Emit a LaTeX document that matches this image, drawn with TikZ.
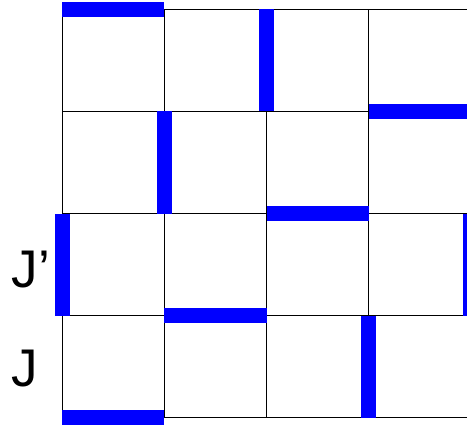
\documentclass[tikz,border=0pt]{standalone}
\usepackage{fontspec}
\setmainfont{Liberation Sans}
\usepackage{tikz}

\begin{document}
\begin{tikzpicture}[
  x=102pt, y=-102pt,
  gridline/.style={black, line width=1.3pt},
  bar/.style={draw=blue, line width=15pt, line cap=butt},
  label/.style={inner sep=0pt, anchor=base west, font=\fontsize{53}{60}\selectfont},
  ]

  % Page frame
  \useasboundingbox (-0.6127,-0.0931) rectangle (3.9657,4.0833);

  % Lattice
  \foreach \i in {0,...,4} {
    \draw[gridline] (\i,0) -- (\i,4);
    \draw[gridline] (0,\i) -- (4,\i);
  }

  % Horizontal links
  \foreach \c/\r in {0/0, 3/1, 2/2, 1/3, 0/4}
    \draw[bar] (\c,\r) -- ++(1,0);

  % Vertical links
  \foreach \c/\r in {2/0, 1/1, 0/2, 4/2, 3/3}
    \draw[bar] (\c,\r) -- ++(0,1);

  % Row labels
  \node[label] (Jprime) at (-0.5,2.73) {J’};
  \node[label] (J) at (-0.5,3.70) {J};

\end{tikzpicture}
\end{document}
